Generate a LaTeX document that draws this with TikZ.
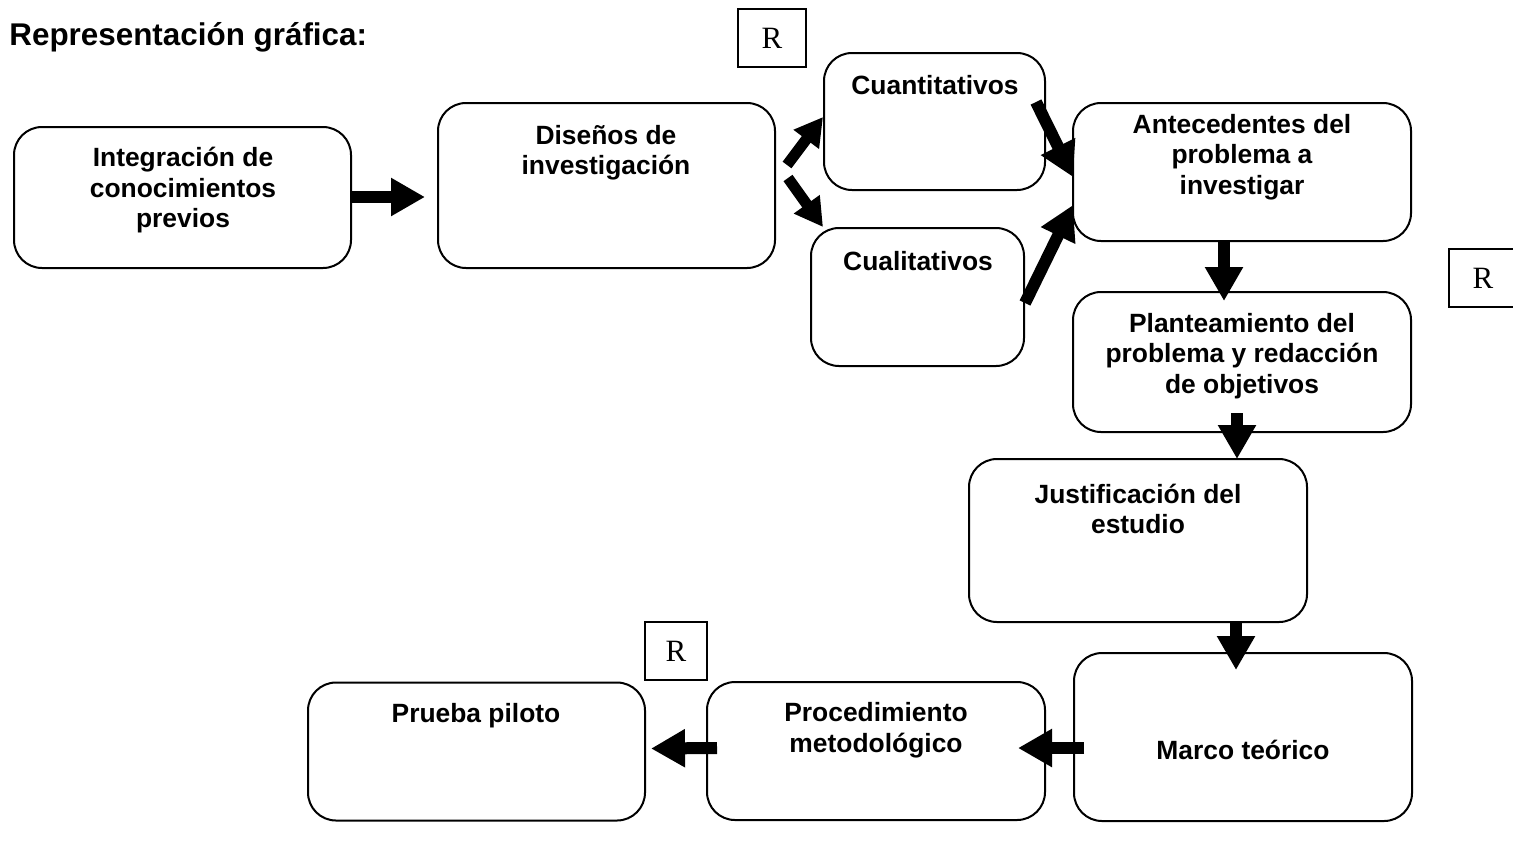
\documentclass[tikz,border=0pt]{standalone}
\usepackage{fontspec}
\setmainfont{Liberation Sans}
\newfontfamily\rfont{Liberation Serif}
\usetikzlibrary{arrows.meta,calc}
\begin{document}
\begin{tikzpicture}[x=0.5pt,y=-0.5pt,
 box/.style={draw,line width=1pt,rounded corners=14pt,inner sep=0pt},
 lbl/.style={inner sep=0pt,align=center,font=\bfseries\fontsize{13.2}{15.25}\selectfont},
 rbox/.style={draw,line width=0.6pt,inner sep=0pt,font=\rfont\fontsize{15.5}{17}\selectfont},
 barrow/.style={line width=6pt,-{Triangle[width=18pt,length=17pt]}},
 sarrow/.style={line width=5.5pt,-{Triangle[width=15pt,length=14pt]}}]
\useasboundingbox (0,0) rectangle (1513,842);

% title
\node[anchor=base west,inner sep=0pt,font=\bfseries\fontsize{15.7}{18}\selectfont] (title) at (9,45) {Representación gráfica:};

% R boxes
\node[rbox,minimum width=34pt,minimum height=29pt] (r1) at (772,38) {R};
\node[rbox,minimum width=34pt,minimum height=29pt] (r2) at (1483,278) {R};
\node[rbox,minimum width=31pt,minimum height=29pt] (r3) at (676,651) {R};

% boxes
\node[box,minimum width=168.5pt,minimum height=70.5pt] (A) at (182.5,197.5) {};
\node[box,minimum width=168.5pt,minimum height=82.5pt] (B) at (606.5,185.5) {};
\node[box,minimum width=110.5pt,minimum height=68.5pt] (C) at (934.5,121.5) {};
\node[box,minimum width=106.5pt,minimum height=69pt] (D) at (917.5,297) {};
\node[box,minimum width=169pt,minimum height=69pt] (E) at (1242,172) {};
\node[box,minimum width=169pt,minimum height=70pt] (F) at (1242,362) {};
\node[box,minimum width=169pt,minimum height=81.5pt] (G) at (1138,540.5) {};
\node[box,minimum width=169pt,minimum height=84pt] (H) at (1243,737) {};
\node[box,minimum width=169pt,minimum height=69pt] (I) at (876,751) {};
\node[box,minimum width=168.5pt,minimum height=69pt] (J) at (476.5,751.5) {};

% labels
\node[lbl] (tA) at (183,190.5) {Integración de\\conocimientos\\previos};
\node[lbl] (tB) at (606,152.5) {Diseños de\\investigación};
\node[lbl] (tC) at (935,85) {Cuantitativos};
\node[lbl] (tD) at (918,261) {Cualitativos};
\node[lbl] (tE) at (1242,157) {Antecedentes del\\problema a\\investigar};
\node[lbl] (tF) at (1242,356) {Planteamiento del\\problema y redacción\\de objetivos};
\node[lbl] (tG) at (1138,509) {Justificación del\\estudio};
\node[lbl] (tH) at (1243,750) {Marco teórico};
\node[lbl] (tI) at (876,730) {Procedimiento\\metodológico};
\node[lbl] (tJ) at (476,716) {Prueba piloto};

% connector end points
\coordinate (bc) at (787,165);
\coordinate (ct) at (823,117);
\coordinate (bd) at (788,178);
\coordinate (dt) at (823,227);
\coordinate (ce) at (1036,102);
\coordinate (et1) at (1073,177);
\coordinate (de) at (1025,303);
\coordinate (et2) at (1073,205);

% arrows
\draw[barrow] (A.east |- 0,197) -- (425,197);
\draw[sarrow] (bc) -- (ct);
\draw[sarrow] (bd) -- (dt);
\draw[barrow] (ce) -- (et1);
\draw[barrow] (de) -- (et2);
\draw[barrow] ($(E.south)+(-18,0)$) -- ($(F.north)+(-18,10)$);
\draw[barrow] ($(F.south)+(-5,-20)$) -- ($(G.north)+(99,1)$);
\draw[barrow] ($(G.south)+(98,0)$) -- ($(H.north)+(-7,18)$);
\draw[barrow] ($(H.west)+(11,11)$) -- ($(I.east)+(-28,-3)$);
\draw[barrow] ($(I.west)+(11,-3)$) -- ($(J.east)+(5,-3)$);
\end{tikzpicture}
\end{document}
